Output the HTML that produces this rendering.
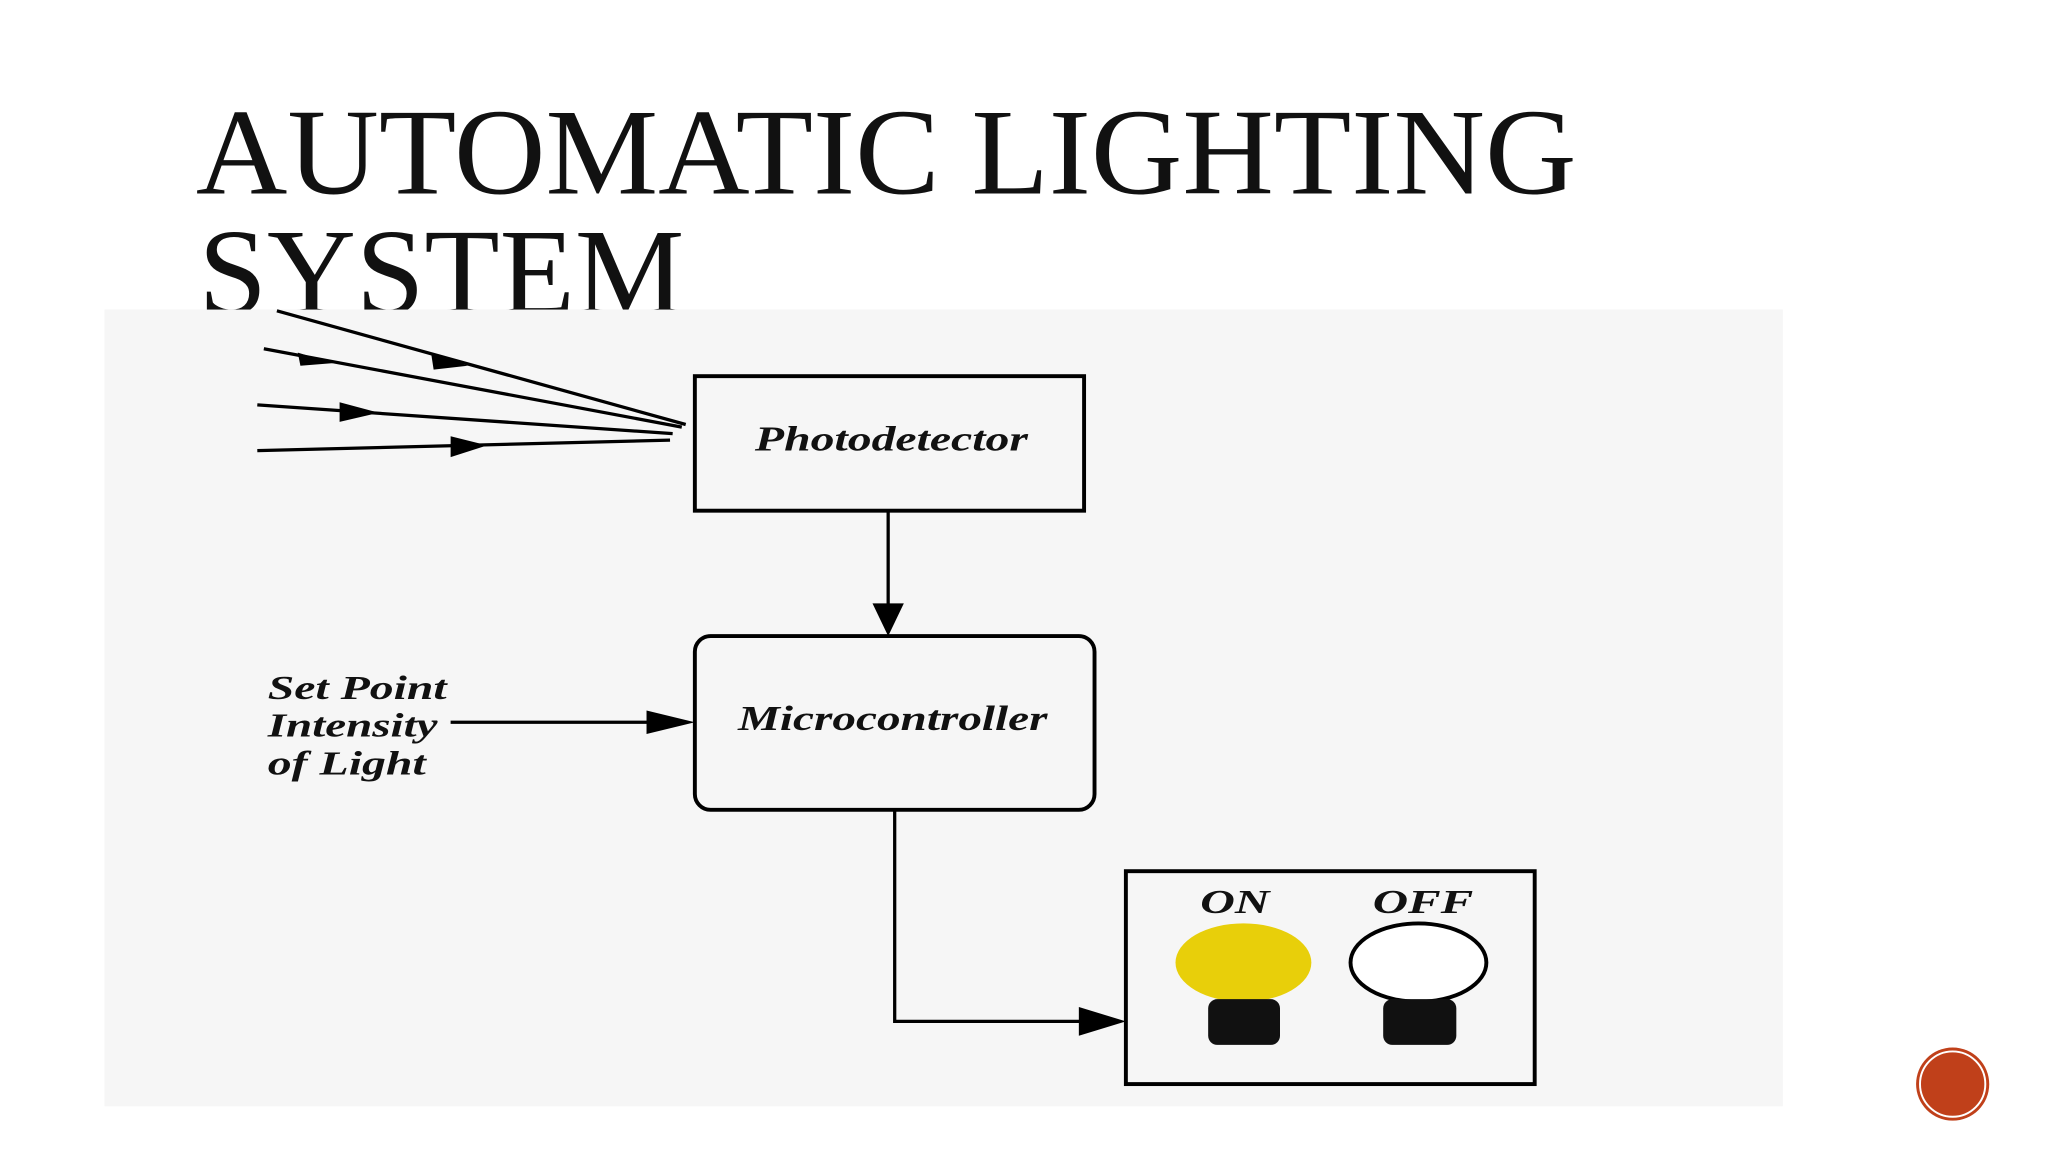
<!DOCTYPE html>
<html><head><style>
html,body{margin:0;padding:0;background:#fff;}
svg{display:block;}
</style></head><body>
<svg width="2048" height="1152" viewBox="0 0 1568 882" preserveAspectRatio="none" xmlns="http://www.w3.org/2000/svg">
<rect width="1568" height="882" fill="#fff"/>
<text x="150" y="148" font-family="Liberation Serif, serif" font-size="94" textLength="1057" lengthAdjust="spacingAndGlyphs" fill="#111">AUTOMATIC LIGHTING</text>
<text x="152" y="240" font-family="Liberation Serif, serif" font-size="94" textLength="372" lengthAdjust="spacingAndGlyphs" fill="#111">SYSTEM</text>
<rect x="80" y="237" width="1285" height="610" fill="#f6f6f6"/>
<g stroke="#000" stroke-width="2.5" fill="none">
<line x1="212" y1="238" x2="525" y2="325"/>
<line x1="202" y1="267" x2="522" y2="327"/>
<line x1="197" y1="310" x2="515" y2="332"/>
<line x1="197" y1="345" x2="513" y2="337"/>
<rect x="532" y="288" width="298" height="103" stroke-width="3"/>
<rect x="532" y="487" width="306" height="133" rx="12" stroke-width="3"/>
<rect x="862" y="667" width="313" height="163" stroke-width="3"/>
<line x1="680" y1="391" x2="680" y2="470"/>
<polyline points="685,620 685,782 840,782"/>
<line x1="345" y1="553" x2="505" y2="553"/>
</g>
<g fill="#000">
<polygon points="330,270 358,280 332,283"/>
<polygon points="228,270 255,278 230,280"/>
<polygon points="260,308 290,316 260,323"/>
<polygon points="345,334 373,341 345,350"/>
<polygon points="668,462 692,462 680,487"/>
<polygon points="495,544 532,553 495,562"/>
<polygon points="826,771 862,782 826,793"/>
</g>
<g font-family="Liberation Serif, serif" font-style="italic" font-weight="bold" fill="#111" lengthAdjust="spacingAndGlyphs">
<text x="578" y="345" font-size="27" textLength="209" lengthAdjust="spacingAndGlyphs">Photodetector</text>
<text x="565" y="559" font-size="27" textLength="237" lengthAdjust="spacingAndGlyphs">Microcontroller</text>
<text x="205" y="535" font-size="26" textLength="137" lengthAdjust="spacingAndGlyphs">Set Point</text>
<text x="205" y="564" font-size="26" textLength="130" lengthAdjust="spacingAndGlyphs">Intensity</text>
<text x="205" y="593" font-size="26" textLength="121" lengthAdjust="spacingAndGlyphs">of Light</text>
<text x="919" y="699" font-size="26" textLength="53" lengthAdjust="spacingAndGlyphs">ON</text>
<text x="1051" y="699" font-size="26" textLength="77" lengthAdjust="spacingAndGlyphs">OFF</text>
</g>
<ellipse cx="952" cy="737" rx="52" ry="30" fill="#e8cf0a"/>
<ellipse cx="1086" cy="737" rx="52" ry="30" fill="#fff" stroke="#000" stroke-width="3"/>
<rect x="925" y="765" width="55" height="35" rx="7" fill="#111"/>
<rect x="1059" y="765" width="56" height="35" rx="7" fill="#111"/>
<circle cx="1495" cy="830" r="28" fill="#c0401a"/>
<circle cx="1495" cy="830" r="25" fill="none" stroke="#fff" stroke-width="1.5"/>
</svg>
</body></html>
